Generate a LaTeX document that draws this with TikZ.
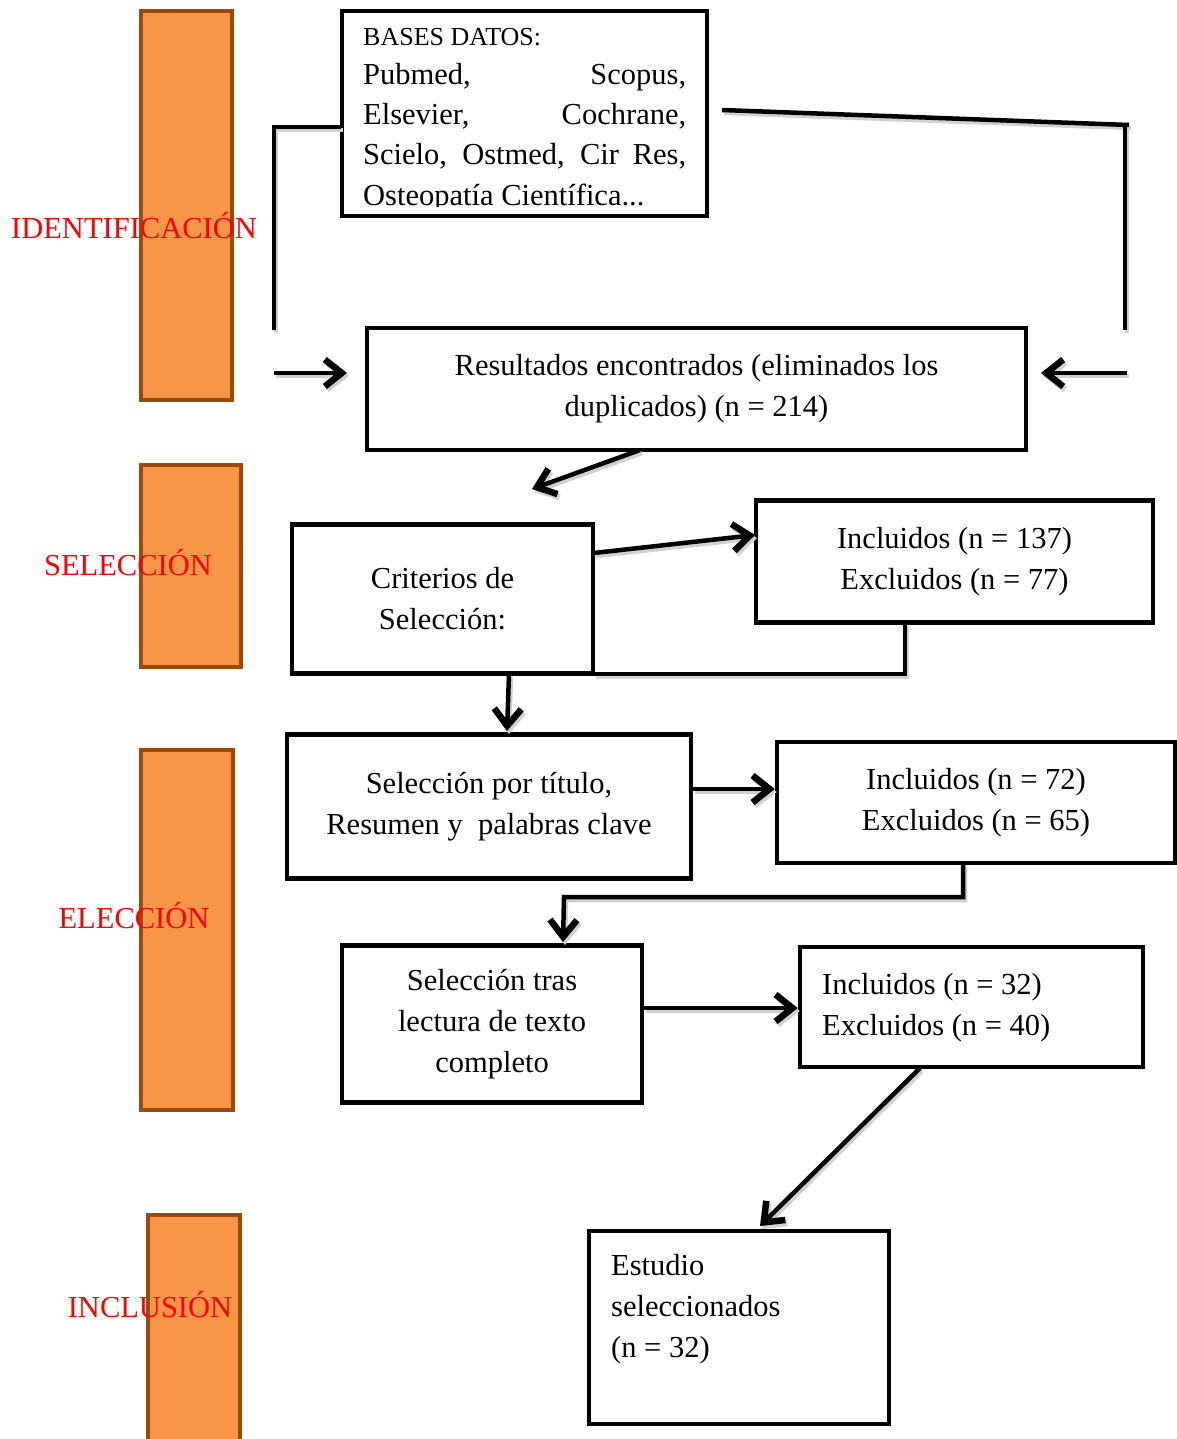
\documentclass[tikz,border=0pt]{standalone}
\usepackage{fontspec}
\setmainfont{Liberation Serif}
\usetikzlibrary{arrows.meta}
\definecolor{barfill}{HTML}{F79646}
\definecolor{barline}{HTML}{9C4A0C}
\begin{document}
\begin{tikzpicture}[x=1pt,y=-1pt,
  box/.style={draw, line width=4.5pt, inner sep=0pt, align=center, font=\fontsize{30.5}{41}\selectfont},
  bar/.style={draw=barline, fill=barfill, line width=4pt, inner sep=0pt},
  stage/.style={text=red, font=\fontsize{30.5}{34}\selectfont, inner sep=0pt},
  conn/.style={line width=4.5pt, preaction={draw=black!18, line width=4.5pt, transform canvas={shift={(2,3)}}}},
  arr/.style={conn, -{Straight Barb[length=17pt,width=27pt,line width=6.5pt]}},
  txt/.style={font=\fontsize{30.5}{41}\selectfont, inner sep=0pt, align=left}]
\useasboundingbox (0,0) rectangle (1176,1439);
% stage bars
\node[bar, minimum width=91, minimum height=389] (b1) at (186.5,205.5) {};
\node[bar, minimum width=100, minimum height=202] (b2) at (191,566) {};
\node[bar, minimum width=92, minimum height=360] (b3) at (187,930) {};
\node[bar, minimum width=92, minimum height=240] (b4) at (194,1335) {};
\node[stage] (s1) at (134,226) {IDENTIFICACIÓN};
\node[stage] (s2) at (128,563) {SELECCIÓN};
\node[stage] (s3) at (134,916) {ELECCIÓN};
\node[stage] (s4) at (150,1305) {INCLUSIÓN};
% top box
\begin{scope}
\clip (343,12) rectangle (706,207);
\node[anchor=base west, inner sep=0pt, font=\fontsize{26}{28}\selectfont] (t0) at (363,46) {BASES DATOS:};
\node[anchor=base west, txt] (t1) at (363,85) {\makebox[323pt][s]{Pubmed, Scopus,}};
\node[anchor=base west, txt] (t2) at (363,125) {\makebox[323pt][s]{Elsevier, Cochrane,}};
\node[anchor=base west, txt] (t3) at (363,165) {\makebox[323pt][s]{Scielo, Ostmed, Cir Res,}};
\node[anchor=base west, txt] (t4) at (363,206) {Osteopatía Científica...};
\end{scope}
\node[box, minimum width=365, minimum height=205] (top) at (524.5,113.5) {};
% boxes
\node[box, minimum width=659, minimum height=122] (res) at (696.5,389) {Resultados encontrados (eliminados los\\duplicados) (n = 214)};
\node[box, minimum width=301, minimum height=149] (crit) at (442.5,599) {Criterios de\\Selección:};
\node[box, minimum width=397, minimum height=122] (inc1) at (954.5,561.5) {Incluidos (n = 137)\\Excluidos (n = 77)};
\node[box, minimum width=404, minimum height=144] (sel1) at (489,806.5) {Selección por título,\\Resumen y\ \ palabras clave};
\node[box, minimum width=398, minimum height=121] (inc2) at (976,802.5) {Incluidos (n = 72)\\Excluidos (n = 65)};
\node[box, minimum width=300, minimum height=157] (sel2) at (492,1024) {Selección tras\\lectura de texto\\completo};
\node[box, minimum width=343, minimum height=120] (inc3) at (971.5,1007) {};
\node[txt, anchor=west] (inc3t) at (822,1007.5) {Incluidos (n = 32)\\Excluidos (n = 40)};
\node[box, minimum width=300, minimum height=193] (est) at (739,1327.5) {};
\node[txt, anchor=north west] (estt) at (611,1254) {Estudio\\seleccionados\\(n = 32)};
% connectors
\coordinate (la) at (341,127);
\coordinate (lb) at (274,127);
\coordinate (lc) at (274,330);
\coordinate (ld) at (274,373);
\coordinate (le) at (347,373);
\coordinate (ra) at (722,110);
\coordinate (rb) at (1129,125);
\coordinate (rc) at (1125,125);
\coordinate (rd) at (1125,330);
\coordinate (re) at (1127,373);
\coordinate (rf) at (1041,373);
\draw[conn] (la) -- (lb) -- (lc);
\draw[arr] (ld) -- (le);
\draw[conn] (ra) -- (rb);
\draw[conn] (rc) -- (rd);
\draw[arr] (re) -- (rf);
\coordinate (r1) at (640,450);
\coordinate (r2) at (532,489);
\draw[arr] (r1) -- (r2);
\coordinate (c1) at (594,553);
\coordinate (c2) at (755,535);
\draw[arr] (c1) -- (c2);
\coordinate (i1) at (905,623);
\coordinate (i2) at (905,674);
\coordinate (i3) at (594,674);
\draw[conn] (i1) -- (i2) -- (i3);
\coordinate (d1) at (509,674);
\draw[arr] (d1) -- (507,731);
\draw[arr] (sel1.east |- 0,789) -- (inc2.west |- 0,789);
\coordinate (j1) at (963,864);
\coordinate (j2) at (963,897);
\coordinate (j3) at (564,897);
\draw[arr] (j1) -- (j2) -- (j3) -- (563,942);
\draw[arr] (sel2.east |- 0,1008) -- (inc3.west |- 0,1008);
\coordinate (k1) at (920,1068);
\coordinate (k2) at (760,1226);
\draw[arr] (k1) -- (k2);
\end{tikzpicture}
\end{document}
